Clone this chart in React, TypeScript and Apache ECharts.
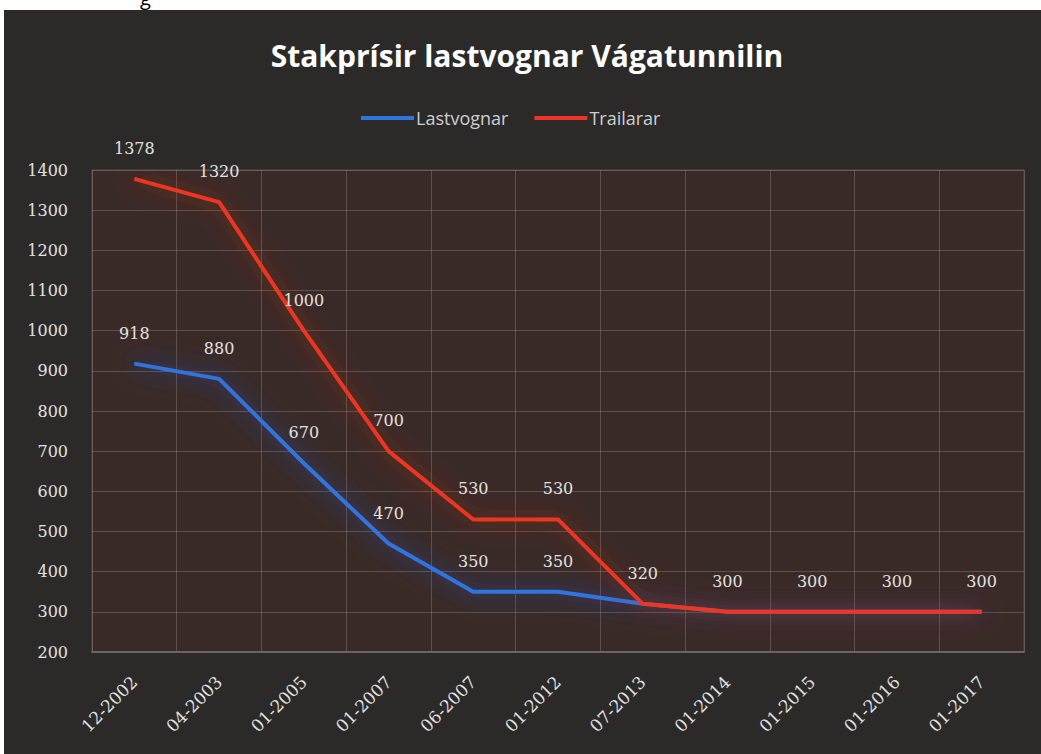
import React, { useEffect, useRef } from "react";
import * as echarts from "echarts";

const categories = [
  "12-2002", "04-2003", "01-2005", "01-2007", "06-2007", "01-2012",
  "07-2013", "01-2014", "01-2015", "01-2016", "01-2017",
];
const lastvognar = [918, 880, 670, 470, 350, 350, 320, 300, 300, 300, 300];
const trailarar = [1378, 1320, 1000, 700, 530, 530, 320, 300, 300, 300, 300];
const titleText = "Stakprísir lastvognar Vágatunnilin";
const seriesNames = ["Lastvognar", "Trailarar"];

export default function App() {
  const ref = useRef<HTMLDivElement>(null);
  useEffect(() => {
    if (!ref.current) return;
    const chart = echarts.init(ref.current, undefined, { renderer: "svg" });
    const labelFont = {
      color: "#e2e2e2",
      fontFamily: "DejaVu Serif",
      fontSize: 16,
    };
    chart.setOption({
      animation: false,
      backgroundColor: "#2b2a29",
      graphic: [
        {
          type: "text",
          x: 523,
          y: 45,
          style: {
            text: titleText,
            fill: "#ffffff",
            font: "bold 30px 'Open Sans'",
            textAlign: "center",
            textVerticalAlign: "middle",
          },
        },
      ],
      legend: {
        left: 352,
        top: 94,
        itemWidth: 53,
        itemHeight: 4,
        itemGap: 26,
        icon: "rect",
        textStyle: {
          color: "#cfcfcf",
          fontFamily: "Open Sans",
          fontSize: 18,
          padding: [0, 0, 0, -3],
        },
        data: seriesNames,
      },
      grid: {
        left: 88,
        right: 17,
        top: 160,
        bottom: 102,
        show: true,
        backgroundColor: "#3a2a27",
        borderColor: "#55504e",
        borderWidth: 1,
      },
      xAxis: {
        type: "category",
        data: categories,
        boundaryGap: true,
        axisLine: { lineStyle: { color: "#6a6462", width: 2 } },
        axisTick: { show: false },
        splitLine: { show: true, lineStyle: { color: "rgba(170,150,145,0.35)", width: 1 } },
        axisLabel: { ...labelFont, fontSize: 17, rotate: 45, margin: 27, interval: 0 },
      },
      yAxis: {
        type: "value",
        min: 200,
        max: 1400,
        interval: 100,
        axisLine: { show: false },
        axisTick: { show: false },
        splitLine: { lineStyle: { color: "rgba(170,150,145,0.35)", width: 1 } },
        axisLabel: { ...labelFont, margin: 24, formatter: (v: number) => String(v) },
      },
      series: [
        {
          name: seriesNames[0],
          type: "line",
          data: lastvognar.map((v, i) => ({
            value: v,
            label: { show: i < 6 },
          })),
          symbol: "circle",
          symbolSize: 1,
          showSymbol: true,
          itemStyle: { color: "#2f74e0" },
          lineStyle: {
            color: "#2f74e0",
            width: 4,
            shadowBlur: 22,
            shadowColor: "rgba(40,90,230,0.8)",
          },
          label: { show: true, position: "top", distance: 22, ...labelFont },
          z: 2,
        },
        {
          name: seriesNames[1],
          type: "line",
          data: trailarar,
          symbol: "circle",
          symbolSize: 1,
          showSymbol: true,
          itemStyle: { color: "#ee3424" },
          lineStyle: {
            color: "#ee3424",
            width: 4,
            shadowBlur: 22,
            shadowColor: "rgba(220,50,20,0.65)",
          },
          label: { show: true, position: "top", distance: 22, ...labelFont },
          z: 3,
        },
      ],
    });
    return () => chart.dispose();
  }, []);
  return (
    <div style={{ position: "fixed", left: 0, top: 0, width: 1041, height: 754, background: "#ffffff" }}>
      <div style={{ position: "absolute", left: 140, top: 0, height: 10, overflow: "hidden", width: 30 }}>
        <span style={{ position: "absolute", top: -16, left: 0, fontFamily: "'Open Sans'", fontSize: 20, color: "#000" }}>g</span>
      </div>
      <div ref={ref} style={{ position: "absolute", left: 4, top: 10, width: 1037, height: 744 }} />
    </div>
  );
}
